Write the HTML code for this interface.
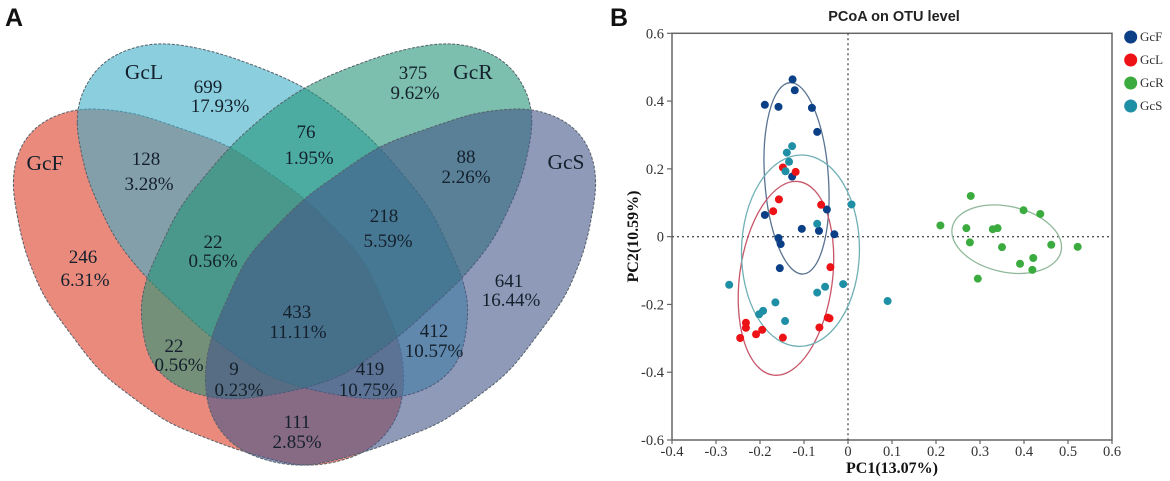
<!DOCTYPE html>
<html><head><meta charset="utf-8"><style>
html,body{margin:0;padding:0;background:#fff;width:1170px;height:481px;overflow:hidden}
svg{display:block;filter:blur(.35px)}
.v{font:19px "Liberation Serif",serif;fill:#14202c;text-anchor:middle}
.n{font:21.5px "Liberation Serif",serif;fill:#14202c;text-anchor:middle}
.t{font:14.5px "Liberation Serif",serif;fill:#333}
.p{font:bold 25px "Liberation Sans",sans-serif;fill:#111}
</style></head><body>
<svg id="fig" width="1170" height="481" viewBox="0 0 1170 481" xmlns="http://www.w3.org/2000/svg">
<text class="p" x="5" y="26">A</text>
<text class="p" x="610" y="26">B</text>
<g stroke="#55606a" stroke-width="1" stroke-dasharray="3 1.5" fill-opacity=".6">
<path id="vF" fill="#dc3c25"/>
<path id="vL" fill="#3eafca"/>
<path id="vR" fill="#259478"/>
<path id="vS" fill="#44578a"/>
</g>
<g>
<text class="n" x="144" y="79">GcL</text>
<text class="n" x="45" y="170">GcF</text>
<text class="n" x="473" y="79">GcR</text>
<text class="n" x="566" y="169">GcS</text>
<g><text class="v" x="208" y="93">699</text><text class="v" x="220" y="112">17.93%</text></g>
<g><text class="v" x="146" y="165">128</text><text class="v" x="149" y="190">3.28%</text></g>
<g><text class="v" x="413" y="79">375</text><text class="v" x="415" y="99">9.62%</text></g>
<g><text class="v" x="306" y="138">76</text><text class="v" x="309" y="164">1.95%</text></g>
<g><text class="v" x="466" y="163">88</text><text class="v" x="466" y="183">2.26%</text></g>
<g><text class="v" x="384" y="222">218</text><text class="v" x="388" y="247">5.59%</text></g>
<g><text class="v" x="213" y="248">22</text><text class="v" x="213" y="267">0.56%</text></g>
<g><text class="v" x="83" y="263">246</text><text class="v" x="85" y="286">6.31%</text></g>
<g><text class="v" x="509" y="287">641</text><text class="v" x="511" y="306">16.44%</text></g>
<g><text class="v" x="297" y="318">433</text><text class="v" x="298" y="338">11.11%</text></g>
<g><text class="v" x="434" y="337">412</text><text class="v" x="434" y="357">10.57%</text></g>
<g><text class="v" x="370" y="375">419</text><text class="v" x="368" y="396">10.75%</text></g>
<g><text class="v" x="174" y="352">22</text><text class="v" x="179" y="371">0.56%</text></g>
<g><text class="v" x="234" y="375">9</text><text class="v" x="239" y="396">0.23%</text></g>
<g><text class="v" x="297" y="428">111</text><text class="v" x="297" y="448">2.85%</text></g>
</g>
<g id="plot"></g>
</svg>
<script>
const xTicks = [-0.4,-0.3,-0.2,-0.1,0,0.1,0.2,0.3,0.4,0.5,0.6];
const yTicks = [-0.6,-0.4,-0.2,0,0.2,0.4,0.6];
const groupNames = ['GcF','GcL','GcR','GcS'];
const gcfX = [-.126,-.121,-.189,-.158,-.082,-.070,-.127,-.048,-.189,-.105,-.066,-.031,-.158,-.153,-.155];
const gcfY = [.464,.432,.389,.383,.380,.309,.177,.080,.064,.023,.017,.007,-.004,-.022,-.093];
const gclX = [-.148,-.119,-.157,-.061,-.170,-.040,-.065,-.046,-.042,-.232,-.232,-.245,-.209,-.195,-.148];
const gclY = [.204,.191,.110,.094,.075,-.090,-.268,-.239,-.241,-.254,-.269,-.299,-.288,-.275,-.298];
const gcrX = [.279,.399,.437,.210,.269,.329,.340,.277,.350,.462,.522,.421,.391,.419,.295];
const gcrY = [.120,.078,.067,.033,.025,.022,.025,-.017,-.031,-.024,-.030,-.063,-.080,-.098,-.124];
const gcsX = [-.127,-.139,-.134,-.142,.008,-.070,-.270,-.165,-.193,-.202,-.143,-.070,-.052,-.011,.090];
const gcsY = [.267,.248,.221,.193,.095,.038,-.142,-.194,-.219,-.229,-.249,-.165,-.148,-.140,-.190];
const ellipseCx = [-.117,-.141,.3607,-.108];
const ellipseCy = [.172,-.123,-.0075,-.0415];
const ellipseRx = [.0725,.1055,.1266,.134];
const ellipseRy = [.283,.288,.0968,.2825];
const ellipseTilt = [-4,7.5,12.5,1];

/* Venn outlines; GcR and GcS mirror GcL and GcF */
const outlineF = [[11,182],[18,147],[38,122],[77,107],[133,112],[229,145],[305,198],[363,257],[398,335],[405,370],[403,400],[397,422],[373,450],[333,464],[300,467],[240,451],[167,423],[100,373],[43,297],[23,247]];
const outlineL = [[75,123],[79,95],[100,62],[133,46],[167,42],[217,52],[267,70],[305,87],[342,113],[378,145],[430,207],[463,278],[470,305],[462,360],[437,386],[402,398],[367,400],[310,390],[267,377],[210,337],[145,277],[115,240],[87,180]];
function smooth(p){
  const step = 4, pts = [];
  for (let i = 0; i < p.length; i++){
    const a = p[i], b = p[(i+1)%p.length];
    const len = Math.hypot(b[0]-a[0], b[1]-a[1]);
    const n = Math.max(1, Math.round(len/step));
    for (let k = 0; k < n; k++) pts.push([a[0]+(b[0]-a[0])*k/n, a[1]+(b[1]-a[1])*k/n]);
  }
  let cur = pts;
  const w = 3;
  for (let pass = 0; pass < 4; pass++){
    cur = cur.map((_,i) => {
      let sx2 = 0, sy2 = 0;
      for (let k = -w; k <= w; k++){
        const q = cur[(i+k+cur.length)%cur.length];
        sx2 += q[0]; sy2 += q[1];
      }
      return [sx2/(2*w+1), sy2/(2*w+1)];
    });
  }
  return 'M' + cur.map(q => q[0].toFixed(1)+' '+q[1].toFixed(1)).join('L') + 'Z';
}
const mirror = p => p.map(q => [609 - q[0], q[1]]);
document.getElementById('vF').setAttribute('d', smooth(outlineF));
document.getElementById('vL').setAttribute('d', smooth(outlineL));
document.getElementById('vR').setAttribute('d', smooth(mirror(outlineL)));
document.getElementById('vS').setAttribute('d', smooth(mirror(outlineF)));

const NS = 'http://www.w3.org/2000/svg';
const plot = document.getElementById('plot');
const L = 672, R = 1112, T = 33.3, B = 440;
const sx = v => L + (v + 0.4) / 1.0 * (R - L);
const sy = v => B - (v + 0.6) / 1.2 * (B - T);
const pointColors = ['#0b3f86','#ec1216','#3bab3f','#1f8fa6'];
const ringColors = ['#5a7391','#c8566a','#8fb89a','#6fb0b5'];
const xs = [gcfX,gclX,gcrX,gcsX];
const ys = [gcfY,gclY,gcrY,gcsY];
function mk(tag, attrs, parent){
  const e = document.createElementNS(NS, tag);
  for (const k in attrs) e.setAttribute(k, attrs[k]);
  parent.appendChild(e);
  return e;
}
const frame = mk('rect',{x:L,y:T,width:R-L,height:B-T,fill:'none',stroke:'#666','stroke-width':1.5},plot);


const zeroV = mk('line',{x1:sx(0),x2:sx(0),y1:T,y2:B,stroke:'#555','stroke-width':1.4,'stroke-dasharray':'2 3'},plot);


const zeroH = mk('line',{x1:L,x2:R,y1:sy(0),y2:sy(0),stroke:'#555','stroke-width':1.4,'stroke-dasharray':'2 3'},plot);


xTicks.forEach(v => {
  const tick = mk('line',{x1:sx(v),x2:sx(v),y1:B,y2:B+4,stroke:'#666','stroke-width':1.2},plot);
  
  
  const label = mk('text',{x:sx(v),y:B+16,'text-anchor':'middle',class:'t'},plot);
  label.textContent = String(v);
  
  
});
yTicks.forEach(v => {
  const tick = mk('line',{x1:L-5,x2:L,y1:sy(v),y2:sy(v),stroke:'#666','stroke-width':1.2},plot);
  
  
  const label = mk('text',{x:L-8,y:sy(v)+5,'text-anchor':'end',class:'t'},plot);
  label.textContent = String(v);
  
  
});
groupNames.forEach((name,i) => {
  const cx = sx(ellipseCx[i]), cy = sy(ellipseCy[i]);
  const ring = mk('ellipse',{cx:cx,cy:cy,rx:ellipseRx[i]*(R-L),ry:ellipseRy[i]*(B-T)/1.2,fill:'none',stroke:ringColors[i],'stroke-width':1.3,transform:'rotate('+ellipseTilt[i]+' '+cx+' '+cy+')'},plot);
  
  
});
groupNames.forEach((name,i) => {
  xs[i].forEach((x,j) => {
    const dot = mk('circle',{cx:sx(x),cy:sy(ys[i][j]),r:4,fill:pointColors[i]},plot);
    
    
  });
  const swatch = mk('circle',{cx:1130.7,cy:37+i*23,r:6.5,fill:pointColors[i]},plot);
  
  
  const entry = mk('text',{x:1140,y:41+i*23,class:'t',style:'font-size:13px'},plot);
  entry.textContent = name;
  
  
});
const title = mk('text',{x:894,y:21,'text-anchor':'middle',style:'font:bold 14.5px "Liberation Sans",sans-serif;fill:#222'},plot);
title.textContent = 'PCoA on OTU level';


const xTitle = mk('text',{x:892,y:473,'text-anchor':'middle',style:'font:bold 16px "Liberation Serif",serif;fill:#111'},plot);
xTitle.textContent = 'PC1(13.07%)';


const yTitle = mk('text',{x:0,y:0,'text-anchor':'middle',transform:'translate(638 236.5) rotate(-90)',style:'font:bold 16px "Liberation Serif",serif;fill:#111'},plot);
yTitle.textContent = 'PC2(10.59%)';


</script>
</body></html>
